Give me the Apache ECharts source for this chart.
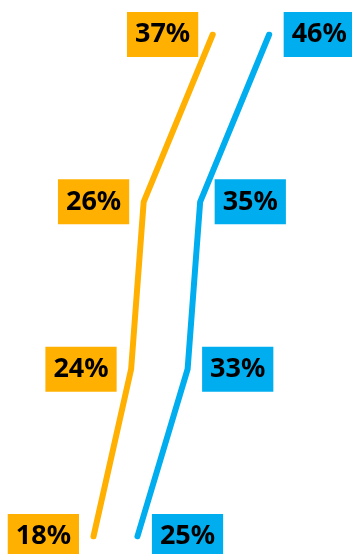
<!DOCTYPE html>
<html>
<head>
<meta charset="utf-8">
<style>
  html, body { margin: 0; padding: 0; background: #fff; }
  #chart { width: 352px; height: 554px; }
</style>
<script src="https://cdn.jsdelivr.net/npm/echarts@6/dist/echarts.min.js"></script>
</head>
<body>
<div id="chart"></div>
<script>
// bottom -> top
const levels = ["L1", "L2", "L3", "L4"];
const orangeValues = [18, 24, 26, 37];
const blueValues = [25, 33, 35, 46];

const orange = "#FFB000";
const blue = "#00AEEF";

function labelStyle(pos, bg) {
  return {
    show: true,
    position: pos,
    distance: 14,
    formatter: p => p.value + "%",
    fontFamily: "Noto Sans",
    fontWeight: "bold",
    fontSize: 27,
    lineHeight: 27,
    color: "#000",
    backgroundColor: bg,
    padding: [10, 8, 8, 8]
  };
}

let myChart = echarts.init(document.getElementById("chart"));
myChart.setOption({
  animation: false,
  grid: { left: 0, right: 0, top: 34.5, bottom: 17.5 },
  xAxis: {
    type: "value",
    min: 3.1,
    max: 59.2,
    show: false
  },
  yAxis: {
    type: "category",
    data: levels,
    boundaryGap: false,
    show: false
  },
  series: [
    {
      name: "orange",
      type: "line",
      data: orangeValues,
      symbol: "circle",
      symbolSize: 1,
      showSymbol: true,
      clip: false,
      itemStyle: { color: orange },
      lineStyle: { color: orange, width: 6, cap: "round", join: "miter" },
      label: labelStyle("left", orange)
    },
    {
      name: "blue",
      type: "line",
      data: blueValues,
      symbol: "circle",
      symbolSize: 1,
      showSymbol: true,
      clip: false,
      itemStyle: { color: blue },
      lineStyle: { color: blue, width: 6, cap: "round", join: "miter" },
      label: labelStyle("right", blue)
    }
  ]
});
</script>
</body>
</html>
